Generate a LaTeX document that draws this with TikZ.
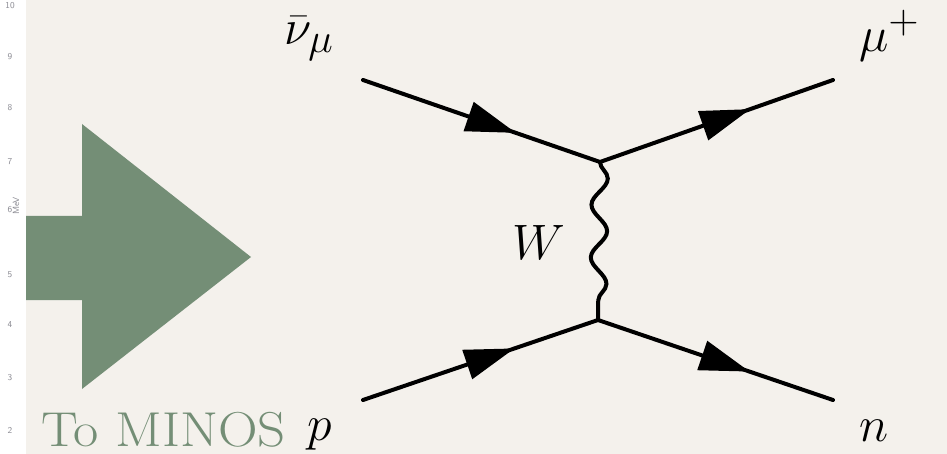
\documentclass[tikz,border=0pt]{standalone}
\usepackage{tikz}
\usetikzlibrary{positioning, arrows.meta, decorations.markings, decorations.pathmorphing}
\definecolor{slidebg}{RGB}{244,241,236}
\definecolor{minosgreen}{RGB}{116,142,118}
\definecolor{ticknum}{RGB}{140,140,148}
\tikzset{
    fermion/.style={line width=4pt, color=black, line cap=round, postaction={decorate},
        decoration={markings, mark=at position 0.645 with {\arrow{Triangle[length=50pt, width=30pt]}}}},
    boson/.style={line width=4pt, color=black, decorate, decoration={snake, segment length=52.7pt, amplitude=8pt}},
    partlbl/.style={font=\fontsize{24.88}{30}\selectfont, scale=2, inner sep=0pt},
    ticklbl/.style={font=\sffamily\fontsize{9}{10}\selectfont, text=ticknum, inner sep=0pt},
    bigarrow/.style={fill=minosgreen, draw=none}
}
\begin{document}
\begin{tikzpicture}[x=1pt, y=-1pt]
            % Slide background
            \useasboundingbox (0,0) rectangle (947,454);
            \fill[slidebg] (0,0) rectangle (947,454);
            \fill[white] (0,0) rectangle (26,454);

            % Leftover axis of the plot behind
            \foreach \val/\ypos in {10/6, 9/57, 8/108, 7/162, 6/210, 5/275, 4/325, 3/378, 2/430}
                \node[ticklbl] at (10,\ypos) {\val};
            \node[ticklbl, rotate=90] at (16,206) {MeV};

            % Big green arrow
            \fill[bigarrow] (26,216) -- (82,216) -- (82,124) -- (251,257) -- (82,389) -- (82,300) -- (26,300) -- cycle;
            \node[anchor=base west, inner sep=0pt, xscale=1.12, font=\fontsize{49}{56}\selectfont, text=minosgreen] (minos) at (41,446) {To MINOS};

            % Vertices and free ends
            \coordinate (vtop) at (600,162);
            \coordinate (vbot) at (598,320);
            \coordinate (nuin) at (363,80);
            \coordinate (muout) at (833,80);
            \coordinate (pin) at (363,400);
            \coordinate (nout) at (833,400);

            % Feynman lines
            \draw[fermion] (nuin) -- (vtop);
            \draw[fermion] (vtop) -- (muout);
            \draw[fermion] (pin) -- (vbot);
            \draw[fermion] (vbot) -- (nout);
            \draw[boson] (vtop) -- (vbot);

            % Particle labels
            \node[partlbl, anchor=base west] (nubar) at (284,45) {$\bar{\nu}_\mu$};
            \node[partlbl, anchor=base west] (muplus) at (859,52) {$\mu^+$};
            \node[partlbl, anchor=base west] (proton) at (307,440) {$p$};
            \node[partlbl, anchor=base west] (neutron) at (859,441) {$n$};
            \node[partlbl, anchor=base west] (wlbl) at (512,260) {$W$};
        \end{tikzpicture}
\end{document}
